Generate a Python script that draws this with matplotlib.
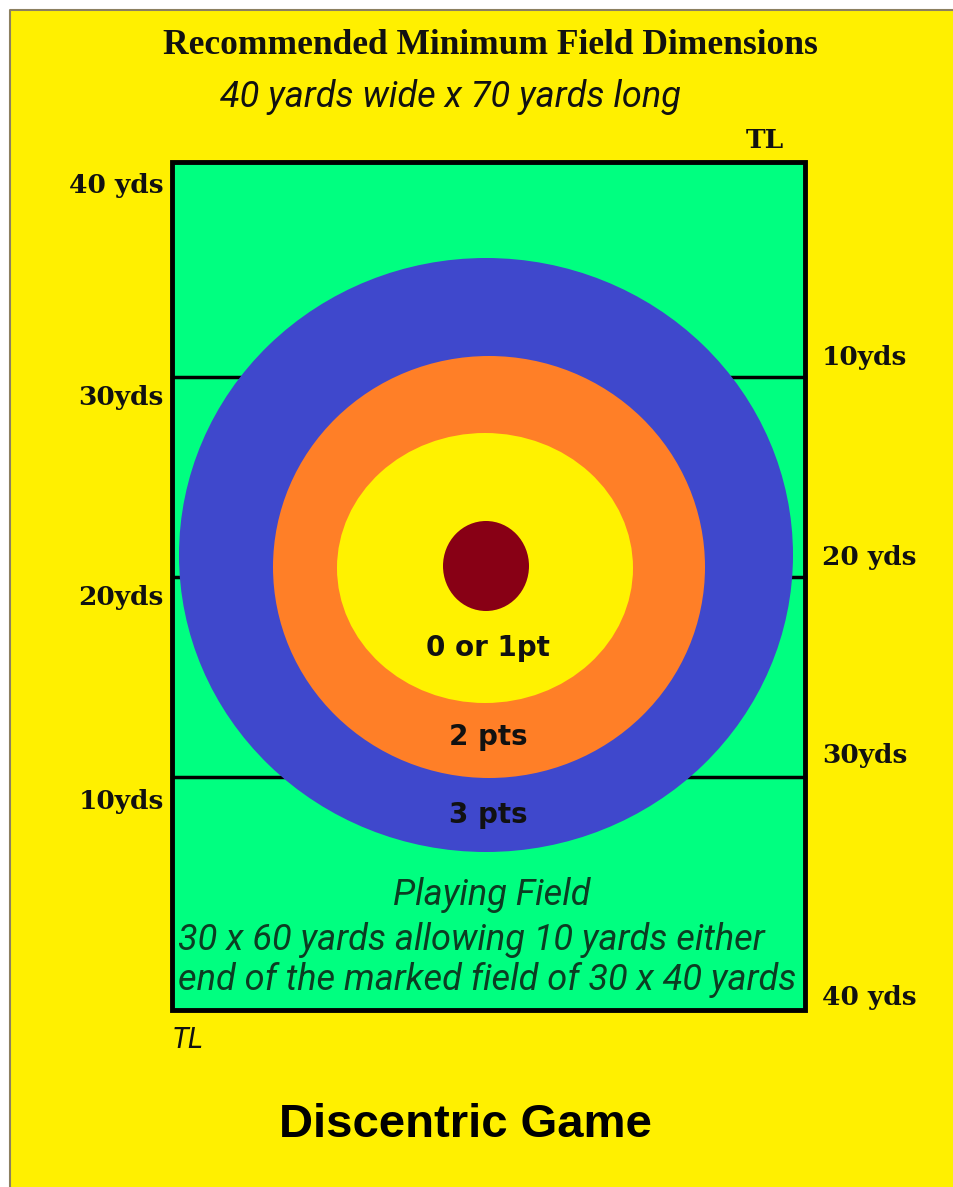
import matplotlib
matplotlib.use("Agg")
import matplotlib.pyplot as plt
from matplotlib.patches import Rectangle, Ellipse

# ---- data ----
title = "Recommended Minimum Field Dimensions"
subtitle = "40 yards wide x 70 yards long"
footer = "Discentric Game"
field_note = ["Playing Field",
              "30 x 60 yards allowing 10 yards either",
              "end of the marked field of 30 x 40 yards"]

# yard lines across the field (pixel rows in the drawing, top -> bottom)
yard_lines = [162, 377, 577, 777, 1010]
left_labels = ["40 yds", "30yds", "20yds", "10yds"]
right_labels = ["10yds", "20 yds", "30yds", "40 yds"]

# target rings, outer -> inner
ring_labels = ["3 pts", "2 pts", "0 or 1pt", ""]
ring_colors = ["#3f48cc", "#ff7f27", "#fff200", "#880015"]
ring_rx = [307, 216, 148, 43]
ring_ry = [297, 211, 135, 45]
ring_cx = [486, 489, 485, 486]
ring_cy = [555, 567, 568, 566]
ring_label_y = [815, 737, 648]

W, H = 954, 1187
fig = plt.figure(figsize=(W / 100, H / 100), dpi=100)
fig.patch.set_facecolor("#fff000")
ax = fig.add_axes([0, 0, 1, 1])
ax.set_facecolor("#fff000")
ax.set_xlim(0, W)
ax.set_ylim(H, 0)
ax.axis("off")

# white margin and thin border on the left and top
ax.add_patch(Rectangle((0, 0), 10, H, facecolor="white", edgecolor="none", zorder=0))
ax.add_patch(Rectangle((0, 0), W, 10, facecolor="white", edgecolor="none", zorder=0))
ax.plot([10, 10, W], [H, 10, 10], color="#8c8060", lw=1.5, zorder=0.5)

# field
fx0, fx1 = 172, 805
ax.add_patch(Rectangle((fx0, yard_lines[0]), fx1 - fx0, yard_lines[-1] - yard_lines[0],
                       facecolor="#00ff80", edgecolor="black", lw=3.5, zorder=1))
for y in yard_lines[1:-1]:
    ax.plot([fx0, fx1], [y, y], color="black", lw=2.5, zorder=2)

# target
for rx, ry, cx, cy, c in zip(ring_rx, ring_ry, ring_cx, ring_cy, ring_colors):
    ax.add_patch(Ellipse((cx, cy), 2 * rx, 2 * ry, facecolor=c, edgecolor="none", zorder=3))
for lab, y in zip(ring_labels, ring_label_y):
    ax.text(488, y, lab, ha="center", va="center", fontsize=20, fontweight="bold",
            family="DejaVu Sans", color="#111111", zorder=4)

# yard labels
serif = dict(family="DejaVu Serif", fontweight="bold", fontsize=19, color="#111111")
for lab, y in zip(left_labels, [185, 397, 597, 802]):
    ax.text(164, y, lab, ha="right", va="center", **serif)
for lab, y in zip(right_labels, [357, 557, 755, 997]):
    ax.text(822, y, lab, ha="left", va="center", **serif)
ax.text(765, 140, "TL", ha="center", va="center", **serif)
ax.text(172, 1040, "TL", ha="left", va="center", fontsize=21, style="italic",
        family="Roboto", color="#111111")

# titles
ax.text(490, 45, title, ha="center", va="center", family="Liberation Serif",
        fontweight="bold", fontsize=25.5, color="#111111")
ax.text(450, 97, subtitle, ha="center", va="center", family="Roboto",
        style="italic", fontsize=26, color="#111111")

# playing field note
ax.text(492, 895, field_note[0], ha="center", va="center", family="Roboto",
        style="italic", fontsize=26, color="#0b3d22", zorder=4)
for line, y in zip(field_note[1:], [940, 980]):
    ax.text(178, y, line, ha="left", va="center", family="Roboto", style="italic",
            fontsize=26, color="#0b3d22", zorder=4)

ax.text(465, 1125, footer, ha="center", va="center", family="Liberation Sans",
        fontweight="bold", fontsize=34, color="black")

fig.savefig("out.png", dpi=100, facecolor=fig.get_facecolor())
